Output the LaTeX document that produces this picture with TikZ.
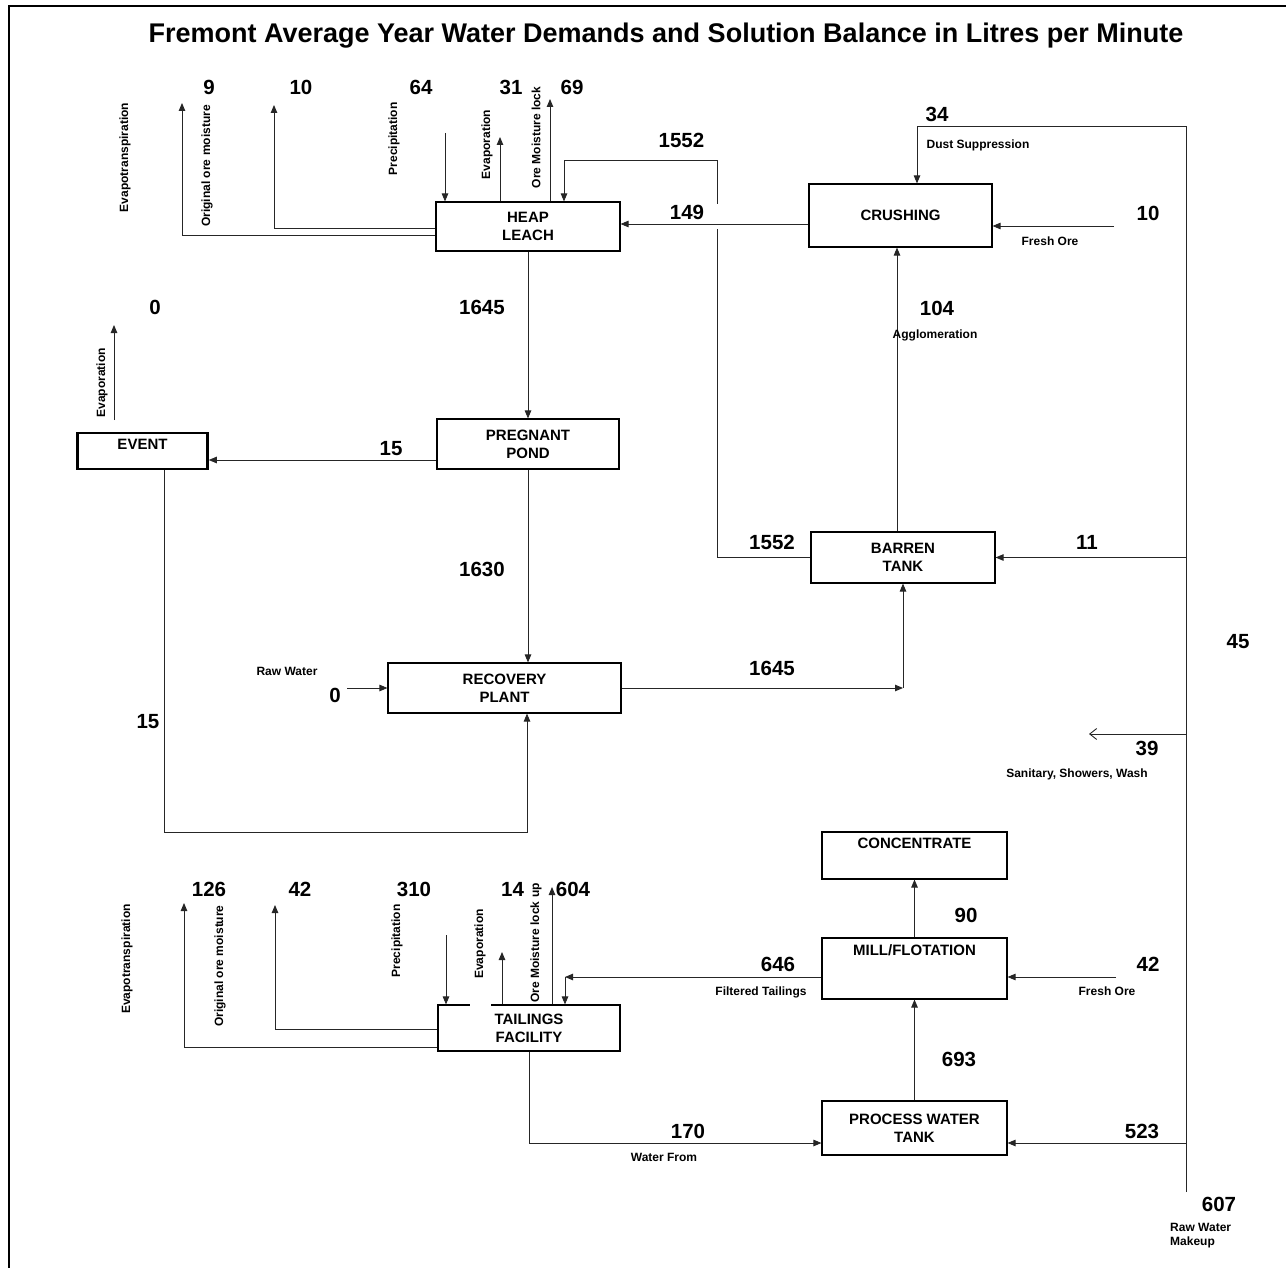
\documentclass[tikz,border=0pt]{standalone}
\usepackage{fontspec}
\setmainfont{Liberation Sans}
\usetikzlibrary{arrows.meta}

\begin{document}
\begin{tikzpicture}[x=1pt,y=-1pt,
  unitbox/.style={draw=black,line width=1.1pt,inner sep=0pt,align=center,font=\fontsize{15}{18}\selectfont\bfseries},
  flow/.style={draw=black!85,line width=0.9pt,-{Triangle[length=8pt,width=6.5pt]}},
  openflow/.style={draw=black!85,line width=0.9pt,-{Straight Barb[length=7pt,width=11pt]}},
  pipe/.style={draw=black!85,line width=0.9pt},
  num/.style={inner sep=0pt,anchor=base,font=\fontsize{20.5}{24}\selectfont\bfseries},
  lbl/.style={inner sep=0pt,anchor=base,font=\fontsize{12}{14}\selectfont\bfseries},
  vlbl/.style={inner sep=0pt,rotate=90,font=\fontsize{12}{14}\selectfont\bfseries}]
  \useasboundingbox (0,0) rectangle (1286,1268);
  \draw[line width=2pt] (9,1268) -- (9,6) -- (1286,6);
  \node[anchor=base,inner sep=0pt,font=\fontsize{27}{32}\selectfont\bfseries] (title) at (666,43)
    {Fremont Average Year Water Demands and Solution Balance in Litres per Minute};

  % units
  \node[unitbox,minimum width=184pt,minimum height=49pt] (heap) at (528,226.5) {HEAP\\LEACH};
  \node[unitbox,minimum width=183pt,minimum height=63pt] (crush) at (900.5,215.5) {CRUSHING};
  \node[unitbox,minimum width=182pt,minimum height=50pt] (pond) at (528,444) {PREGNANT\\POND};
  \node[unitbox,line width=2.5pt,minimum width=130pt,minimum height=36pt,text depth=14pt] (event) at (142.5,451) {EVENT};
  \node[unitbox,minimum width=184pt,minimum height=51pt] (barren) at (903,557.5) {BARREN\\TANK};
  \node[unitbox,minimum width=233pt,minimum height=50pt] (recov) at (504.5,688) {RECOVERY\\PLANT};
  \node[unitbox,minimum width=185pt,minimum height=47pt,text depth=25pt] (conc) at (914.5,855.5) {CONCENTRATE};
  \node[unitbox,minimum width=185pt,minimum height=61pt,text depth=37pt] (mill) at (914.5,968.5) {MILL/FLOTATION};
  \node[unitbox,minimum width=185pt,minimum height=54pt] (pwt) at (914.5,1128) {PROCESS WATER\\TANK};
  \node[unitbox,minimum width=182pt,minimum height=46pt] (tail) at (529,1028) {TAILINGS\\FACILITY};
  \draw[white,line width=2.5pt] ([xshift=-59pt]tail.north) -- ([xshift=-38pt]tail.north);

  % raw water makeup line
  \coordinate (rawTop) at (1186,126);
  \coordinate (rawBot) at (1186,1192);
  \draw[pipe] (rawBot) -- (rawTop);
  \coordinate (cN) at ([xshift=16.5pt]crush.north);
  \draw[flow] (rawTop) -| (cN);
  \draw[flow] (barren.east -| rawTop) -- (barren.east);
  \coordinate (sanit) at (1089,734);
  \draw[openflow] (sanit -| rawTop) -- (sanit);
  \coordinate (pwtIn) at (1186,1143);
  \draw[flow] (pwtIn) -- (pwtIn -| pwt.east);

  % heap leach losses
  \coordinate (hEvt) at (182,103);
  \coordinate (hOom) at (274,105);
  \coordinate (hPre) at (445,133);
  \coordinate (hEvp) at (500,137);
  \coordinate (hOml) at (550,99);
  \coordinate (hW1) at ([yshift=-8.5pt]heap.west);
  \coordinate (hW2) at ([yshift=-1.5pt]heap.west);
  \draw[flow] (hW1) -| (hEvt);
  \draw[flow] (hW2) -| (hOom);
  \draw[flow] (hPre) -- (hPre |- heap.north);
  \draw[flow] (hEvp |- heap.north) -- (hEvp);
  \draw[flow] (hOml |- heap.north) -- (hOml);

  % heap leach circuit
  \coordinate (recyLo) at (717,229);
  \coordinate (recyHi) at (717,204);
  \coordinate (recyTop) at (717,160);
  \draw[pipe] (barren.west) -| (recyLo);
  \draw[flow] (recyHi) -- (recyTop) -| ([xshift=36pt]heap.north);
  \coordinate (c149) at ([yshift=-8.5pt]crush.west);
  \draw[flow] (c149) -- (c149 -| heap.east);
  \coordinate (cOre) at (1114,226);
  \draw[flow] (cOre) -- (cOre -| crush.east);
  \coordinate (bN) at ([xshift=-6pt]barren.north);
  \draw[flow] (bN) -- (bN |- crush.south);
  \draw[flow] (heap.south) -- (pond.north);
  \coordinate (pW) at ([yshift=-16pt]pond.west);
  \draw[flow] (pW) -- (pW -| event.east);
  \coordinate (eEvpB) at (114,420);
  \coordinate (eEvp) at (114,325);
  \draw[flow] (eEvpB) -- (eEvp);
  \draw[flow] (pond.south) -- (pond.south |- recov.north);
  \coordinate (eS) at ([xshift=21.5pt]event.south);
  \coordinate (eLoop) at (527,832);
  \draw[flow] (eS) |- (eLoop) -- (eLoop |- recov.south);
  \coordinate (rwIn) at (347,688);
  \draw[flow] (rwIn) -- (recov.west);
  \coordinate (rcE) at (recov.east -| barren.south);
  \draw[flow] (recov.east) -- (rcE);
  \draw[flow] (rcE) -- (barren.south);

  % mill circuit
  \draw[flow] (mill.north) -- (conc.south);
  \draw[flow] (pwt.north) -- (mill.south);
  \coordinate (mW) at ([yshift=-8.5pt]mill.west);
  \coordinate (fTail) at (565,977);
  \draw[flow] (mW) -- (fTail);
  \draw[flow] (fTail) -- (fTail |- tail.north);
  \coordinate (mOre) at (1116,977);
  \draw[flow] (mOre) -- (mOre -| mill.east);
  \draw[flow] (tail.south) |- (pwtIn -| pwt.west);

  % tailings losses
  \coordinate (tEvt) at (184,903);
  \coordinate (tOom) at (275,905);
  \coordinate (tPre) at (446,935);
  \coordinate (tEvp) at (502,952);
  \coordinate (tOml) at (552,887);
  \coordinate (tW1) at ([yshift=-19pt]tail.west);
  \coordinate (tW2) at ([yshift=-1pt]tail.west);
  \draw[flow] (tW1) -| (tEvt);
  \draw[flow] (tW2) -| (tOom);
  \draw[flow] (tPre) -- (tPre |- tail.north);
  \draw[flow] (tEvp |- tail.north) -- (tEvp);
  \draw[flow] (tOml |- tail.north) -- (tOml);

  % flow values
  \foreach \x/\y/\t [count=\i] in {209/94.4/9, 301/94.4/10, 421/94.4/64, 511/94.4/31, 572/94.4/69,
      681.5/147.4/1552, 687/219.4/149, 937/121.4/34, 1148/220.4/10, 937/315.4/104,
      155/314.4/0, 482/314.4/1645, 391/455.4/15, 482/576.4/1630, 772/549.4/1552,
      1087/549.4/11, 772/675.4/1645, 1238/648.4/45, 335/702.4/0, 148/728.4/15,
      1147/755.4/39, 209/896.4/126, 300/896.4/42, 414/896.4/310, 512.5/896.4/14,
      573/896.4/604, 966/922.4/90, 778/971.4/646, 1148/971.4/42, 959/1066.4/693,
      688/1138.4/170, 1142/1138.4/523, 1219/1211.4/607}
    \node[num] (n\i) at (\x,\y) {\t};

  % stream names
  \foreach \x/\y/\t [count=\i] in {125/157.5/Evapotranspiration, 207/166/Original ore moisture,
      394/139/Precipitation, 487/144.5/Evaporation, 536/137.5/Ore Moisture lock,
      102/383/Evaporation, 127/959/Evapotranspiration, 220/966/Original ore moisture,
      397/941/Precipitation, 480/944/Evaporation, 536/943/Ore Moisture lock up}
    \node[vlbl] (v\i) at (\x,\y) {\t};
  \node[lbl] (dust) at (978,148.3) {Dust Suppression};
  \node[lbl] (cfresh) at (1050,245.3) {Fresh Ore};
  \node[lbl] (aggl) at (935,338.3) {Agglomeration};
  \node[lbl] (rawin) at (287,675.3) {Raw Water};
  \node[lbl] (sanitl) at (1077,777.3) {Sanitary, Showers, Wash};
  \node[lbl] (filt) at (761,995.3) {Filtered Tailings};
  \node[lbl] (mfresh) at (1107,995.3) {Fresh Ore};
  \node[lbl] (wfrom) at (664,1161.3) {Water From};
  \node[lbl,anchor=north west,align=left] (makeup) at (1170,1223.5) {Raw Water\\Makeup};
\end{tikzpicture}
\end{document}
